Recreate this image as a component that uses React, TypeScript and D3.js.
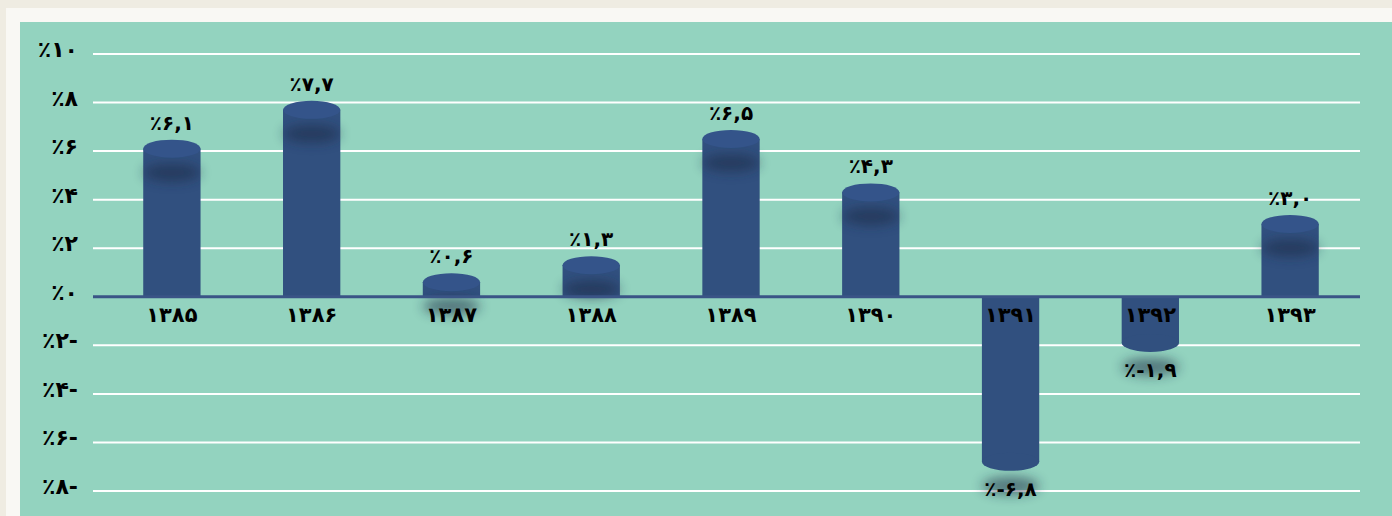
import React from 'react';
import * as d3 from 'd3';

const years = ['۱۳۸۵', '۱۳۸۶', '۱۳۸۷', '۱۳۸۸', '۱۳۸۹', '۱۳۹۰', '۱۳۹۱', '۱۳۹۲', '۱۳۹۳'];
const growth = [6.1, 7.7, 0.6, 1.3, 6.5, 4.3, -6.8, -1.9, 3.0];
const growthLabels = ['٪۶,۱', '٪۷,۷', '٪۰,۶', '٪۱,۳', '٪۶,۵', '٪۴,۳', '٪-۶,۸', '٪-۱,۹', '٪۳,۰'];
const yTicks = [10, 8, 6, 4, 2, 0, -2, -4, -6, -8];
const yTickLabels = ['٪۱۰', '٪۸', '٪۶', '٪۴', '٪۲', '٪۰', '٪۲-', '٪۴-', '٪۶-', '٪۸-'];

const W = 1392;
const H = 516;
const gridLeft = 93;
const gridRight = 1360;
const BAR = '#31507f';
const CAP = '#34548a';
const FONT = '"DejaVu Sans", sans-serif';

const ltr: React.CSSProperties = { unicodeBidi: 'bidi-override', direction: 'ltr' };

const App: React.FC = () => {
  const x = d3.scaleBand<string>().domain(years).range([102, 1360]).paddingInner(0.59).paddingOuter(0.295);
  const y = d3.scaleLinear().domain([-8, 10]).range([491, 54]);
  const bw = x.bandwidth();
  const ry = 9;

  return (
    <svg width={W} height={H} style={{ position: 'absolute', left: 0, top: 0 }}>
      <defs>
        <filter id="shadow" x="-50%" y="-100%" width="200%" height="300%">
          <feGaussianBlur stdDeviation="6" />
        </filter>
      </defs>
      <rect width={W} height={H} fill="#efece2" />
      <rect x={6} y={8} width={W - 6} height={H - 8} fill="#f9f8f4" />
      <rect x={20} y={22} width={W - 20} height={H - 22} fill="#93d3bf" />

      {/* grid */}
      {yTicks.filter(t => t !== 0).map(t => (
        <line key={t} x1={gridLeft} x2={gridRight} y1={y(t)} y2={y(t)} stroke="#ffffff" strokeWidth={2} />
      ))}

      {/* y labels */}
      {yTicks.map((t, i) => (
        <text
          key={t}
          x={78}
          y={y(t) + 3}
          textAnchor="end"
          fontFamily={FONT}
          fontWeight="bold"
          fontSize={22}
          letterSpacing={1}
          fill="#000"
          style={ltr}
        >
          {yTickLabels[i]}
        </text>
      ))}

      {/* bars */}
      {years.map((yr, i) => {
        const v = growth[i];
        const x0 = x(yr) as number;
        const cx = x0 + bw / 2;
        const yv = y(v);
        const y0 = y(0);
        return (
          <g key={yr}>
            <rect x={x0} y={Math.min(yv, y0)} width={bw} height={Math.abs(yv - y0)} fill={BAR} />
            <ellipse cx={cx} cy={yv + 24} rx={bw / 2} ry={ry} fill="#1c2c44" opacity={0.55} filter="url(#shadow)" />
            <ellipse cx={cx} cy={yv} rx={bw / 2} ry={ry} fill={v >= 0 ? CAP : BAR} />
          </g>
        );
      })}

      {/* zero line */}
      <line x1={gridLeft} x2={gridRight} y1={y(0)} y2={y(0)} stroke="#3a5486" strokeWidth={3} />

      {/* category labels */}
      {years.map(yr => (
        <text
          key={yr}
          x={(x(yr) as number) + bw / 2}
          y={322}
          textAnchor="middle"
          fontFamily={FONT}
          fontWeight="bold"
          fontSize={21}
          letterSpacing={1}
          fill="#000"
        >
          {yr}
        </text>
      ))}

      {/* value labels */}
      {years.map((yr, i) => {
        const v = growth[i];
        const cx = (x(yr) as number) + bw / 2;
        const ly = v >= 0 ? y(v) - 19 : y(v) + 34;
        return (
          <text
            key={yr}
            x={cx}
            y={ly}
            textAnchor="middle"
            fontFamily={FONT}
            fontWeight="bold"
            fontSize={20}
            letterSpacing={2}
            fill="#000"
            style={ltr}
          >
            {growthLabels[i]}
          </text>
        );
      })}
    </svg>
  );
};

export default App;
